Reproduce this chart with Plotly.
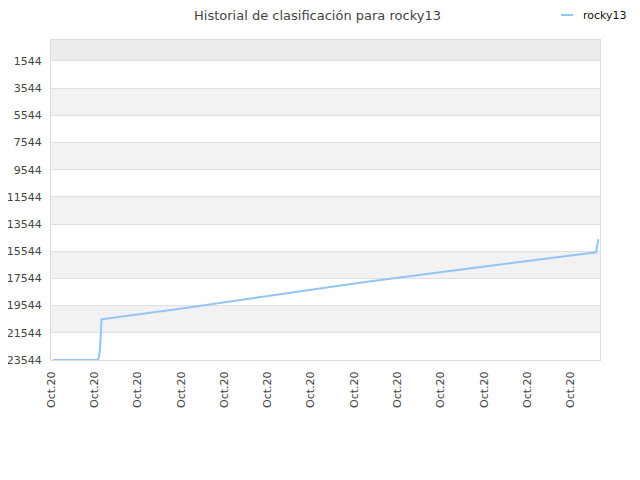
import plotly.graph_objects as go

# rank history for rocky13 (lower number = better rank)
dates = [
    "2020-10-01 02:00", "2020-10-03 04:00", "2020-10-03 06:00", "2020-10-03 08:00",
    "2020-10-06 23:00", "2020-10-11 03:00", "2020-10-15 06:00", "2020-10-19 10:00",
    "2020-10-23 03:00", "2020-10-26 04:00", "2020-10-26 06:30",
]
ranks = [23544, 23544, 23000, 20550, 19768, 18810, 17855, 16998, 16236, 15617, 14650]

y_ticks = [1544, 3544, 5544, 7544, 9544, 11544, 13544, 15544, 17544, 19544, 21544, 23544]
y_labels = [str(v) for v in y_ticks]
y_top = 0
x_start = "2020-10-01 00:00"
x_end = "2020-10-26 08:20"
series_name = "rocky13"
line_color = "#92c5f5"

fig = go.Figure()
fig.add_trace(go.Scatter(
    x=dates, y=ranks, mode="lines", name=series_name,
    line=dict(color=line_color, width=2), showlegend=False,
))

# alternating horizontal bands
shapes = [dict(type="rect", xref="paper", yref="y", x0=0, x1=1, y0=y_top, y1=y_ticks[0],
               fillcolor="#ececec", line_width=0, layer="below")]
for i in range(1, len(y_ticks) - 1, 2):
    shapes.append(dict(type="rect", xref="paper", yref="y", x0=0, x1=1,
                       y0=y_ticks[i], y1=y_ticks[i + 1],
                       fillcolor="#f2f2f2", line_width=0, layer="below"))

# small legend swatch like the original (short line + label)
shapes.append(dict(type="line", xref="paper", yref="paper",
                   x0=0.929, x1=0.951, y0=1.078, y1=1.078,
                   line=dict(color=line_color, width=2)))

fig.update_layout(
    width=624, height=464,
    margin=dict(l=43, r=32, t=32, b=112, autoexpand=False),
    paper_bgcolor="white", plot_bgcolor="white",
    font=dict(family="DejaVu Sans", size=11, color="#444"),
    title=dict(text="Historial de clasificación para rocky13", x=0.496, y=0.985,
               xref="container", yref="container",
               xanchor="center", yanchor="middle",
               font=dict(family="DejaVu Sans", size=13, color="#444")),
    showlegend=False,
    shapes=shapes,
    annotations=[dict(text=series_name, xref="paper", yref="paper",
                      x=0.9654, y=1.078, xanchor="left", yanchor="middle",
                      showarrow=False, font=dict(size=11, color="#111"))],
)

fig.update_xaxes(
    type="date", range=[x_start, x_end],
    tick0="2020-10-01", dtick=2 * 86400000, tickformat="%b.%y",
    tickangle=-90, showgrid=False, zeroline=False,
    showline=True, linecolor="#dcdcdc", linewidth=1, mirror=True,
    ticks="", ticklabelstandoff=6, tickfont=dict(size=11, color="#444"),
)
fig.update_yaxes(
    range=[y_ticks[-1], y_top], tickvals=y_ticks, ticktext=y_labels,
    showgrid=True, gridcolor="#e0e0e0", gridwidth=1, zeroline=False,
    showline=True, linecolor="#dcdcdc", linewidth=1, mirror=True,
    ticks="", ticklabelstandoff=6, tickfont=dict(size=11, color="#444"),
)

fig.write_html("out.html")
